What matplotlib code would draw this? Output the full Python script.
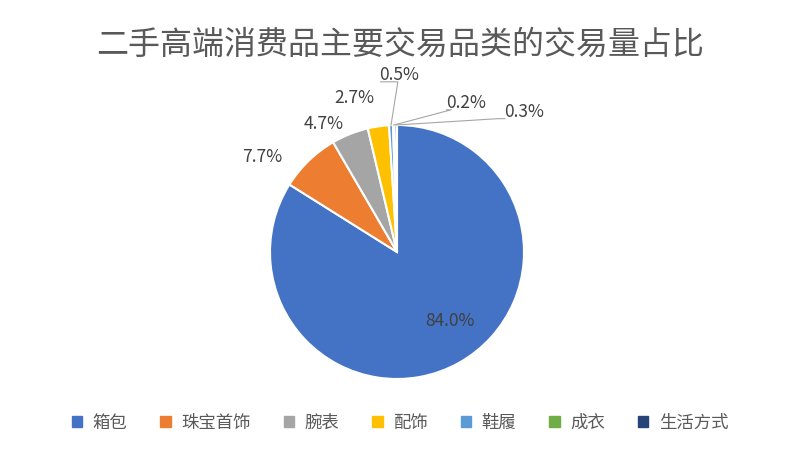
import numpy as np
import matplotlib.pyplot as plt
from matplotlib.patches import Patch

plt.rcParams['font.family'] = ['Noto Sans CJK SC', 'DejaVu Sans']

categories = ['箱包', '珠宝首饰', '腕表', '配饰', '鞋履', '成衣', '生活方式']
shares = [84.0, 7.7, 4.7, 2.7, 0.5, 0.2, 0.3]
colors = ['#4472C4', '#ED7D31', '#A5A5A5', '#FFC000', '#5B9BD5', '#70AD47', '#264478']
# label offsets (in radius units) chosen to match the reference layout
label_pos = [(0.42, -0.54), (-1.06, 0.75), (-0.58, 1.01), (-0.34, 1.21),
             (0.02, 1.39), (0.54, 1.17), (1.0, 1.10)]
leader = [False, False, False, False, True, True, True]

fig = plt.figure(figsize=(8, 4.57), dpi=100)
ax = fig.add_axes([(397 - 127) / 800, (457 - 379) / 457, 254 / 800, 254 / 457])
wedges, _ = ax.pie(shares, colors=colors, startangle=90, counterclock=False,
                   radius=1, wedgeprops=dict(edgecolor='white', linewidth=1.5))
ax.set_xlim(-1, 1)
ax.set_ylim(-1, 1)
ax.set_aspect('auto')
ax.axis('off')

for w, s, (lx, ly), ld in zip(wedges, shares, label_pos, leader):
    ax.text(lx, ly, f'{s:.1f}%', ha='center', va='center', fontsize=12.5,
            color='#404040', clip_on=False)
    if ld:
        ang = np.deg2rad((w.theta1 + w.theta2) / 2)
        x0, y0 = np.cos(ang), np.sin(ang)
        ax.plot([x0, lx * 0.8 + x0 * 0.2, lx - 0.15 * np.sign(lx - x0 + 1e-9)],
                [y0, ly - 0.05, ly - 0.05], color='#A6A6A6', lw=0.8, clip_on=False)

fig.text(0.5, 1 - 45 / 457, '二手高端消费品主要交易品类的交易量占比', ha='center',
         va='center', fontsize=23, color='#595959')

handles = [Patch(color=c, label=l) for c, l in zip(colors, categories)]
fig.legend(handles=handles, loc='center', bbox_to_anchor=(0.5, 1 - 423 / 457),
           ncol=7, frameon=False, fontsize=12.5, handlelength=0.6, handleheight=0.6,
           columnspacing=1.9, handletextpad=0.6, labelcolor='#595959')

fig.savefig('out.png', dpi=100)
